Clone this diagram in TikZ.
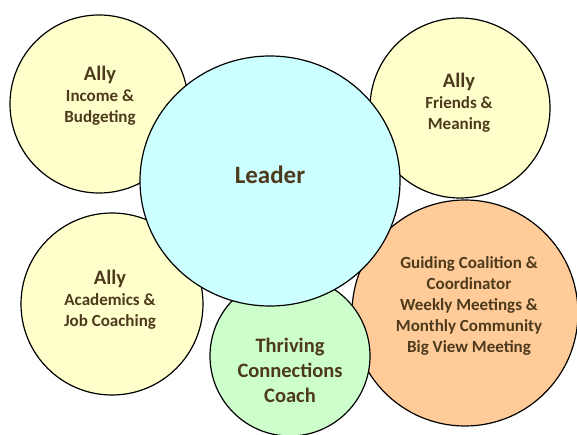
\documentclass[tikz,border=0pt]{standalone}
\usepackage{fontspec}
\setmainfont{Carlito}
\usetikzlibrary{shapes.geometric}
\definecolor{allyfill}{RGB}{255,255,204}
\definecolor{leadfill}{RGB}{204,255,255}
\definecolor{coachfill}{RGB}{204,255,204}
\definecolor{teamfill}{RGB}{255,204,153}
\definecolor{txtbrown}{RGB}{77,58,28}
\begin{document}
\begin{tikzpicture}[x=1pt,y=1pt,
    bubble/.style={circle,draw=black,line width=1.2pt,inner sep=0pt},
    words/.style={align=center,anchor=base,text=txtbrown,
      font=\bfseries\fontsize{17}{21}\selectfont}]
      \useasboundingbox (0,0) rectangle (577,434);%
      \clip (0,0) rectangle (577,434);%

      \node[bubble,fill=allyfill,minimum size=178pt] (A1) at (99,330) {};%
      \node[bubble,fill=allyfill,minimum size=180pt] (A2) at (460,326) {};%
      \node[bubble,fill=allyfill,minimum size=182pt] (A3) at (112,130) {};%
      \node[bubble,fill=teamfill,minimum size=226pt] (GC) at (465,121) {};%
      \node[bubble,fill=coachfill,minimum size=160pt] (TC) at (290,78) {};%
      \node[bubble,ellipse,fill=leadfill,minimum width=260pt,minimum height=250pt] (L) at (270,253) {};%

      \node[words] (A1T) at (100,311)
        {{\fontsize{20.5}{21}\selectfont Ally}\\Income \&\\Budgeting};%
      \node[words] (A2T) at (459,304)
        {{\fontsize{20.5}{21}\selectfont Ally}\\Friends \&\\Meaning};%
      \node[words] (A3T) at (110,108)
        {{\fontsize{20.5}{21}\selectfont Ally}\\Academics \&\\Job Coaching};%
      \node[words,font=\bfseries\fontsize{25}{25}\selectfont] (LT) at (270,251)
        {Leader};%
      \node[words,font=\bfseries\fontsize{20.5}{25}\selectfont] (TCT) at (290,32)
        {Thriving\\Connections\\Coach};%
      \node[words] (GCT) at (469,82)
        {Guiding Coalition \&\\Coordinator\\Weekly Meetings \&\\Monthly Community\\Big View Meeting};%
\end{tikzpicture}
\end{document}
